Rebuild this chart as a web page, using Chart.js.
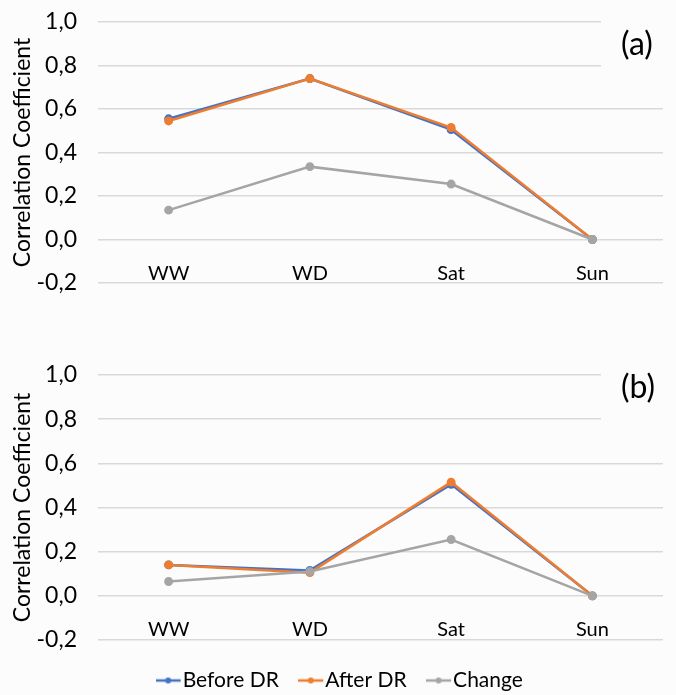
<!DOCTYPE html>
<html>
<head>
<meta charset="utf-8">
<script src="https://cdn.jsdelivr.net/npm/chart.js@4.4.1/dist/chart.umd.min.js"></script>
<style>
    html, body { margin: 0; padding: 0; background: #fcfcfc; overflow: hidden; }
    .panel { position: absolute; left: 0; }
    #wrapA { top: 0; width: 676px; height: 330px; }
    #wrapB { top: 330px; width: 689px; height: 371px; }
</style>
</head>
<body>
<div class="panel" id="wrapA"><canvas id="chartA"></canvas></div>
<div class="panel" id="wrapB"><canvas id="chartB"></canvas></div>
<script>
const days = ['WW', 'WD', 'Sat', 'Sun'];
const yTicks = [-0.2, 0, 0.2, 0.4, 0.6, 0.8, 1.0];

// panel (a)
const beforeA = [0.555, 0.74, 0.505, 0.0];
const afterA  = [0.545, 0.74, 0.515, 0.0];
const changeA = [0.135, 0.335, 0.255, 0.0];

// panel (b)
const beforeB = [0.14, 0.115, 0.505, 0.0];
const afterB  = [0.14, 0.105, 0.515, 0.0];
const changeB = [0.065, 0.11, 0.255, 0.0];

const BLUE = '#4472c4', ORANGE = '#ed7d31', GRAY = '#a5a5a5';
const BG = '#fcfcfc';
const FONT = 'Lato';
const PLOT_RIGHT = 663;
const LEG_SIZE = 21, LEG_PAD = 30, LEG_BOX = 6;

// "line with dot" marker, shifted so it sits right before the text
function lineMarker(color) {
    const c = document.createElement('canvas');
    c.width = 27; c.height = 10;
    const g = c.getContext('2d');
    g.strokeStyle = color;
    g.lineWidth = 2.5;
    g.beginPath(); g.moveTo(0, 5); g.lineTo(25, 5); g.stroke();
    g.fillStyle = color;
    g.beginPath(); g.arc(12.5, 5, 3, 0, Math.PI * 2); g.fill();
    return c;
}

// covers the top gridlines on the right and writes (a)/(b)
const panelLabel = {
    id: 'panelLabel',
    beforeDatasetsDraw(chart, args, opts) {
        const ctx = chart.ctx;
        const y = chart.scales.y;
        ctx.save();
        ctx.fillStyle = BG;
        ctx.fillRect(601, 0, chart.width - 601, y.getPixelForValue(0.7));
        ctx.fillStyle = '#000';
        ctx.font = '32px ' + FONT;
        ctx.textBaseline = 'middle';
        ctx.fillText(opts.text, 621, opts.y);
        ctx.restore();
    }
};

function makeDatasets(before, after, change) {
    const common = { borderWidth: 2.5, pointRadius: 3.2, pointHoverRadius: 3.2, tension: 0 };
    return [
        { label: 'Before DR', data: before, borderColor: BLUE, backgroundColor: BLUE, order: 3, ...common },
        { label: 'After DR', data: after, borderColor: ORANGE, backgroundColor: ORANGE, order: 2, ...common },
        { label: 'Change', data: change, borderColor: GRAY, backgroundColor: GRAY, order: 1, ...common }
    ];
}

function makeChart(id, datasets, panel, withLegend) {
    return new Chart(document.getElementById(id), {
        type: 'line',
        data: { labels: days, datasets: datasets },
        plugins: [panelLabel],
        options: {
            responsive: true,
            maintainAspectRatio: false,
            animation: false,
            layout: { padding: panel.padding },
            scales: {
                x: {
                    position: { y: 0 },
                    offset: true,
                    grid: { display: false },
                    border: { display: false },
                    // right edge of the plot is pinned here, so the legend can use the full canvas width
                    afterFit: s => {
                        s.paddingTop = 0; s.paddingBottom = 0; s.paddingLeft = 0;
                        s.paddingRight = s.chart.width - PLOT_RIGHT;
                    },
                    ticks: { color: '#000', padding: 14, maxRotation: 0, font: { family: FONT, size: 20 } }
                },
                y: {
                    min: -0.2,
                    max: 1.0,
                    afterBuildTicks: s => { s.ticks = yTicks.map(v => ({ value: v })); },
                    afterFit: s => { s.width = 98; s.paddingTop = 0; s.paddingBottom = 0; },
                    grid: { color: '#d9d9d9', lineWidth: 1.5, drawTicks: false },
                    border: { display: false },
                    ticks: {
                        color: '#000',
                        padding: 21,
                        font: { family: FONT, size: 23 },
                        callback: v => (Math.abs(v) < 1e-9 ? 0 : v).toFixed(1).replace('.', ',')
                    },
                    title: {
                        display: true,
                        text: 'Correlation Coefficient',
                        color: '#000',
                        padding: { top: 9, bottom: 0 },
                        font: { family: FONT, size: 23 }
                    }
                }
            },
            plugins: {
                panelLabel: { text: panel.text, y: panel.labelY },
                tooltip: { enabled: false },
                legend: {
                    display: withLegend,
                    position: 'bottom',
                    labels: {
                        color: '#000',
                        font: { family: FONT, size: LEG_SIZE },
                        usePointStyle: true,
                        pointStyleWidth: LEG_BOX,
                        padding: LEG_PAD,
                        sort: (a, b) => a.datasetIndex - b.datasetIndex,
                        generateLabels: chart => Chart.defaults.plugins.legend.labels.generateLabels(chart)
                            .map(item => ({ ...item, pointStyle: lineMarker(chart.data.datasets[item.datasetIndex].borderColor) }))
                    }
                }
            }
        }
    });
}

makeChart('chartA', makeDatasets(beforeA, afterA, changeA),
    { text: '(a)', labelY: 45, padding: { left: 0, right: 0, top: 22, bottom: 47 } }, false);
makeChart('chartB', makeDatasets(beforeB, afterB, changeB),
    { text: '(b)', labelY: 58, padding: { left: 0, right: 0, top: 45, bottom: 0 } }, true);
</script>
</body>
</html>
